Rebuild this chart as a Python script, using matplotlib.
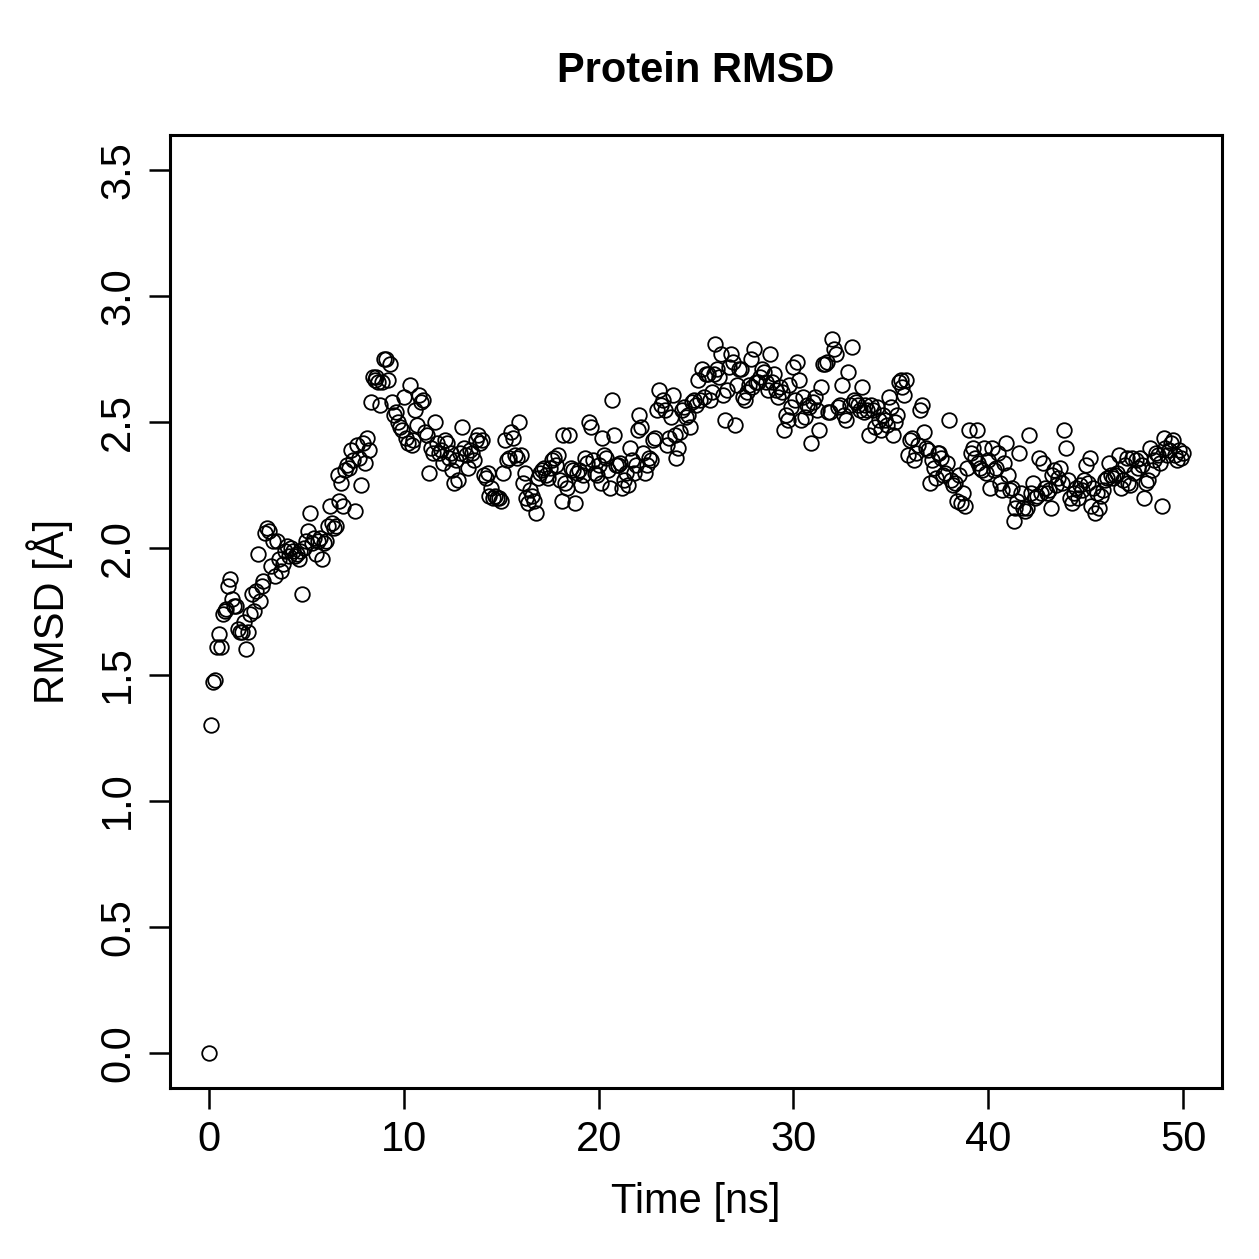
import numpy as np
import matplotlib.pyplot as plt

# RMSD values, one every 0.1 ns
rmsd = [
    0.00, 1.30, 1.47, 1.48, 1.61, 1.66, 1.61, 1.74, 1.75, 1.76,
    1.85, 1.88, 1.80, 1.77, 1.77, 1.68, 1.67, 1.67, 1.71, 1.60,
    1.67, 1.74, 1.82, 1.75, 1.83, 1.98, 1.79, 1.85, 1.87, 2.06,
    2.08, 2.07, 1.93, 2.03, 1.89, 2.03, 1.96, 1.91, 1.94, 1.99,
    2.01, 1.97, 2.00, 1.99, 1.97, 1.98, 1.96, 1.99, 1.82, 2.00,
    2.03, 2.07, 2.14, 2.02, 2.04, 1.98, 2.03, 2.04, 1.96, 2.02,
    2.03, 2.09, 2.17, 2.10, 2.08, 2.09, 2.29, 2.19, 2.26, 2.17,
    2.31, 2.33, 2.32, 2.39, 2.35, 2.15, 2.41, 2.36, 2.25, 2.42,
    2.34, 2.44, 2.39, 2.58, 2.68, 2.67, 2.68, 2.66, 2.57, 2.66,
    2.75, 2.75, 2.67, 2.73, 2.58, 2.53, 2.54, 2.50, 2.48, 2.47,
    2.60, 2.44, 2.42, 2.65, 2.41, 2.43, 2.55, 2.49, 2.61, 2.58,
    2.59, 2.46, 2.45, 2.30, 2.40, 2.38, 2.50, 2.42, 2.38, 2.39,
    2.34, 2.43, 2.42, 2.36, 2.38, 2.31, 2.26, 2.35, 2.27, 2.38,
    2.48, 2.40, 2.37, 2.32, 2.39, 2.38, 2.35, 2.43, 2.45, 2.42,
    2.43, 2.29, 2.28, 2.30, 2.21, 2.24, 2.20, 2.21, 2.20, 2.20,
    2.19, 2.30, 2.43, 2.35, 2.36, 2.46, 2.44, 2.37, 2.36, 2.50,
    2.37, 2.26, 2.30, 2.20, 2.18, 2.23, 2.21, 2.19, 2.14, 2.28,
    2.30, 2.31, 2.32, 2.29, 2.28, 2.32, 2.35, 2.36, 2.33, 2.37,
    2.27, 2.19, 2.45, 2.26, 2.24, 2.45, 2.32, 2.31, 2.18, 2.30,
    2.31, 2.25, 2.29, 2.36, 2.34, 2.50, 2.48, 2.35, 2.30, 2.29,
    2.33, 2.26, 2.44, 2.37, 2.36, 2.31, 2.24, 2.59, 2.45, 2.33,
    2.33, 2.34, 2.24, 2.27, 2.30, 2.25, 2.40, 2.35, 2.30, 2.33,
    2.47, 2.53, 2.48, 2.38, 2.30, 2.33, 2.36, 2.35, 2.43, 2.44,
    2.55, 2.63, 2.57, 2.59, 2.55, 2.41, 2.44, 2.52, 2.61, 2.45,
    2.36, 2.40, 2.46, 2.55, 2.56, 2.52, 2.53, 2.48, 2.58, 2.59,
    2.57, 2.67, 2.59, 2.71, 2.60, 2.69, 2.69, 2.59, 2.62, 2.69,
    2.81, 2.71, 2.68, 2.77, 2.61, 2.51, 2.63, 2.72, 2.77, 2.74,
    2.49, 2.65, 2.71, 2.71, 2.60, 2.59, 2.62, 2.65, 2.75, 2.64,
    2.79, 2.66, 2.66, 2.68, 2.71, 2.70, 2.66, 2.63, 2.77, 2.66,
    2.69, 2.63, 2.60, 2.64, 2.62, 2.47, 2.53, 2.51, 2.65, 2.56,
    2.72, 2.59, 2.74, 2.67, 2.51, 2.60, 2.52, 2.57, 2.56, 2.42,
    2.58, 2.60, 2.55, 2.47, 2.64, 2.73, 2.73, 2.74, 2.54, 2.54,
    2.83, 2.79, 2.77, 2.56, 2.57, 2.65, 2.53, 2.51, 2.70, 2.57,
    2.80, 2.59, 2.58, 2.57, 2.55, 2.64, 2.54, 2.57, 2.55, 2.45,
    2.57, 2.55, 2.48, 2.56, 2.51, 2.47, 2.53, 2.51, 2.49, 2.60,
    2.56, 2.45, 2.50, 2.53, 2.66, 2.67, 2.64, 2.61, 2.67, 2.37,
    2.43, 2.44, 2.35, 2.38, 2.41, 2.55, 2.57, 2.46, 2.40, 2.39,
    2.26, 2.35, 2.32, 2.28, 2.38, 2.38, 2.36, 2.29, 2.30, 2.34,
    2.51, 2.27, 2.25, 2.26, 2.19, 2.29, 2.18, 2.22, 2.17, 2.32,
    2.47, 2.38, 2.40, 2.36, 2.47, 2.34, 2.32, 2.31, 2.40, 2.30,
    2.35, 2.24, 2.40, 2.31, 2.32, 2.38, 2.26, 2.23, 2.34, 2.42,
    2.29, 2.23, 2.24, 2.11, 2.16, 2.19, 2.38, 2.22, 2.16, 2.15,
    2.16, 2.45, 2.22, 2.26, 2.20, 2.21, 2.36, 2.22, 2.34, 2.24,
    2.22, 2.23, 2.16, 2.29, 2.31, 2.25, 2.28, 2.32, 2.26, 2.47,
    2.40, 2.27, 2.20, 2.18, 2.22, 2.24, 2.20, 2.25, 2.23, 2.27,
    2.33, 2.26, 2.36, 2.17, 2.24, 2.14, 2.22, 2.16, 2.21, 2.23,
    2.27, 2.28, 2.34, 2.29, 2.28, 2.29, 2.30, 2.37, 2.24, 2.27,
    2.33, 2.36, 2.26, 2.25, 2.36, 2.30, 2.35, 2.32, 2.36, 2.33,
    2.20, 2.26, 2.27, 2.40, 2.31, 2.35, 2.38, 2.37, 2.34, 2.17,
    2.44, 2.40, 2.37, 2.39, 2.42, 2.43, 2.37, 2.35, 2.39, 2.36,
    2.38,
]
time_ns = [i / 10 for i in range(len(rmsd))]

xticks = [0, 10, 20, 30, 40, 50]
yticks = [0.0, 0.5, 1.0, 1.5, 2.0, 2.5, 3.0, 3.5]

plt.rcParams['font.family'] = ['Liberation Sans', 'DejaVu Sans']

fig = plt.figure(figsize=(12.59, 12.59), dpi=100)
ax = fig.add_axes([0.135, 0.1358, 0.8356, 0.757])

ax.plot(time_ns, rmsd, linestyle='none', marker='o', markersize=10.5,
        markerfacecolor='none', markeredgecolor='black', markeredgewidth=1.3)

ax.set_xlim(-2, 52)
ax.set_ylim(-0.14, 3.64)
ax.set_xticks(xticks)
ax.set_xticklabels([str(t) for t in xticks])
ax.set_yticks(yticks)
ax.set_yticklabels(['%.1f' % t for t in yticks], rotation=90, va='center')

ax.tick_params(axis='both', direction='out', length=15, width=1.8,
               labelsize=30, pad=8)
for sp in ax.spines.values():
    sp.set_linewidth(2.2)

ax.set_xlabel('Time [ns]', fontsize=30, labelpad=16)
ax.set_ylabel('RMSD [Å]', fontsize=30, labelpad=18)
ax.set_title('Protein RMSD', fontsize=30, fontweight='bold', pad=38)

fig.savefig('out.png', dpi=100)
